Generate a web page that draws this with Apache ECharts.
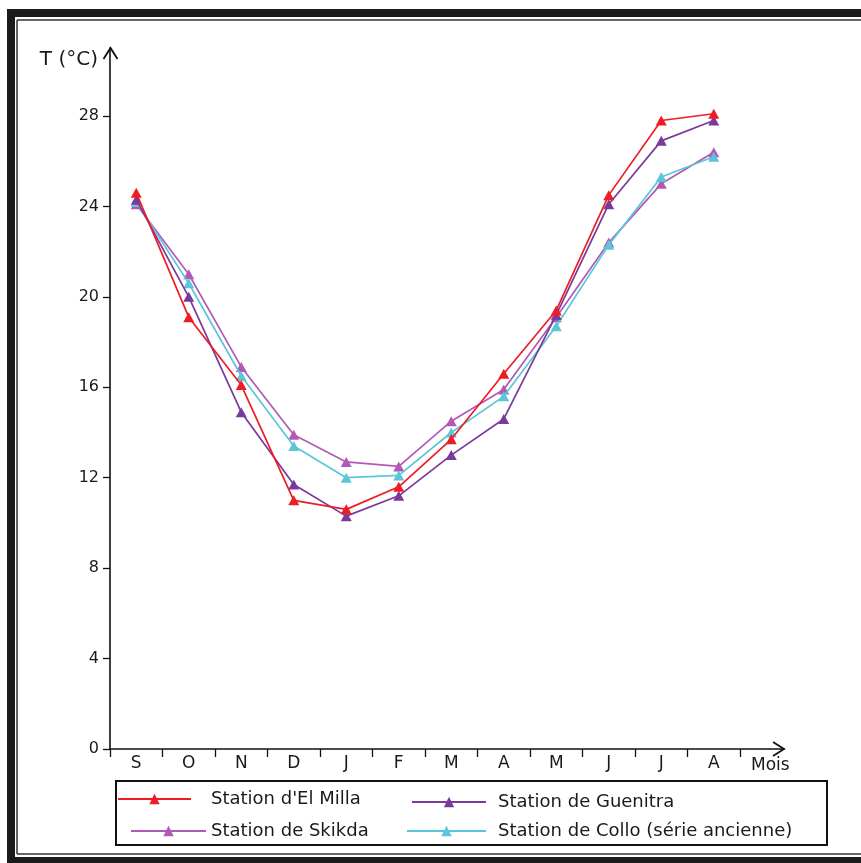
<!DOCTYPE html>
<html>
<head>
<meta charset="utf-8">
<script src="https://cdn.jsdelivr.net/npm/echarts@6/dist/echarts.min.js"></script>
<style>
html,body{margin:0;padding:0;background:#fff;}
#chart{width:861px;height:863px;}
</style>
</head>
<body>
<div id="chart"></div>
<script>
// ---- data ----
var months = ['S','O','N','D','J','F','M','A','M','J','J','A'];
var yTicks = [0,4,8,12,16,20,24,28];
var seriesNames = ["Station d'El Milla","Station de Guenitra","Station de Skikda","Station de Collo (série ancienne)"];
var elMilla  = [24.6, 19.1, 16.1, 11.0, 10.6, 11.6, 13.7, 16.6, 19.4, 24.5, 27.8, 28.1];
var guenitra = [24.3, 20.0, 14.9, 11.7, 10.3, 11.2, 13.0, 14.6, 19.2, 24.1, 26.9, 27.8];
var skikda   = [24.1, 21.0, 16.9, 13.9, 12.7, 12.5, 14.5, 15.9, 19.1, 22.4, 25.0, 26.4];
var collo    = [24.2, 20.6, 16.5, 13.4, 12.0, 12.1, 14.0, 15.6, 18.7, 22.3, 25.3, 26.2];

var colors = ['#ee1c25', '#7a3a9c', '#b259b6', '#5cc6d8'];
var FONT = 'DejaVu Sans';
var TXT = '#1a1a1a';

var chart = echarts.init(document.getElementById('chart'), null, {renderer:'canvas'});

function mkSeries(name, data, color, z) {
  return {
    name: name, type: 'line', data: data, clip: false,
    xAxisIndex: 0, yAxisIndex: 0,
    symbol: 'triangle', symbolSize: [11, 10],
    lineStyle: {color: color, width: 1.7},
    itemStyle: {color: color},
    z: z
  };
}

function mkLegend(name, left, top, w, pad) {
  return {
    data: [name], left: left, top: top, padding: 0,
    itemWidth: w, itemHeight: 13, itemGap: 0,
    textStyle: {fontFamily: FONT, fontSize: 18, color: TXT, padding: [0,0,0,pad], lineHeight: 20}
  };
}

var option = {
  animation: false,
  backgroundColor: '#fff',
  grid: [
    {left: 110, right: 121, top: 116, bottom: 114},
    {left: 110, right: 77, top: 48, bottom: 114}
  ],
  xAxis: [
    {
      type: 'category', gridIndex: 0, data: months, boundaryGap: true,
      axisLine: {show: false},
      axisTick: {show: true, length: 8, lineStyle: {color: '#111', width: 1.3}},
      axisLabel: {margin: 6, fontFamily: FONT, fontSize: 17, color: TXT, interval: 0},
      splitLine: {show: false}
    },
    {
      type: 'value', gridIndex: 1, min: 0, max: 1,
      axisLine: {show: true, lineStyle: {color: '#111', width: 1.6}},
      axisTick: {show: false}, axisLabel: {show: false}, splitLine: {show: false},
      name: 'Mois', nameLocation: 'end', nameGap: -33,
      nameTextStyle: {fontFamily: FONT, fontSize: 17, color: TXT, align: 'left', verticalAlign: 'top', padding: [8,0,0,0]}
    }
  ],
  yAxis: [
    {
      type: 'value', gridIndex: 0, min: 0, max: 28, interval: 4,
      axisLine: {show: false},
      axisTick: {show: true, length: 7, lineStyle: {color: '#111', width: 1.3}, customValues: yTicks},
      axisLabel: {margin: 11, fontFamily: FONT, fontSize: 16, color: TXT, customValues: yTicks},
      splitLine: {show: false}
    },
    {
      type: 'value', gridIndex: 1, min: 0, max: 1,
      axisLine: {show: true, lineStyle: {color: '#111', width: 1.6}},
      axisTick: {show: false}, axisLabel: {show: false}, splitLine: {show: false},
      name: 'T (°C)', nameLocation: 'end', nameGap: -12,
      nameTextStyle: {fontFamily: FONT, fontSize: 20, color: TXT, align: 'right', verticalAlign: 'middle', padding: [0,12,0,0]}
    }
  ],
  legend: [
    mkLegend(seriesNames[0], 117, 789, 73, 15),
    mkLegend(seriesNames[1], 411, 792, 74, 7),
    mkLegend(seriesNames[2], 130, 821, 75, 0),
    mkLegend(seriesNames[3], 406, 821, 79, 7)
  ],
  series: [
    mkSeries(seriesNames[2], skikda, colors[2], 3),
    mkSeries(seriesNames[3], collo, colors[3], 4),
    mkSeries(seriesNames[1], guenitra, colors[1], 5),
    mkSeries(seriesNames[0], elMilla, colors[0], 6)
  ],
  graphic: [
    // outer frame
    {type: 'rect', shape: {x: 7, y: 9, width: 854, height: 8}, style: {fill: '#1c1a1b'}, silent: true},
    {type: 'rect', shape: {x: 7, y: 9, width: 8, height: 854}, style: {fill: '#1c1a1b'}, silent: true},
    {type: 'rect', shape: {x: 7, y: 857, width: 854, height: 6}, style: {fill: '#1c1a1b'}, silent: true},
    {type: 'line', shape: {x1: 17, y1: 20, x2: 861, y2: 20}, style: {stroke: '#333', lineWidth: 1.5}, silent: true},
    {type: 'line', shape: {x1: 17, y1: 20, x2: 17, y2: 854}, style: {stroke: '#333', lineWidth: 1.5}, silent: true},
    {type: 'line', shape: {x1: 17, y1: 854, x2: 861, y2: 854}, style: {stroke: '#333', lineWidth: 1.5}, silent: true},
    // axis arrowheads
    {type: 'polyline', shape: {points: [[103.5, 59], [110.5, 48], [117.5, 59]]}, style: {stroke: '#111', lineWidth: 1.8, fill: null}, silent: true},
    {type: 'polyline', shape: {points: [[773, 742], [784, 749], [773, 756]]}, style: {stroke: '#111', lineWidth: 1.8, fill: null}, silent: true},
    // legend box
    {type: 'rect', shape: {x: 116, y: 781, width: 711, height: 64}, style: {fill: null, stroke: '#111', lineWidth: 2}, silent: true}
  ]
};
chart.setOption(option);
</script>
</body>
</html>
